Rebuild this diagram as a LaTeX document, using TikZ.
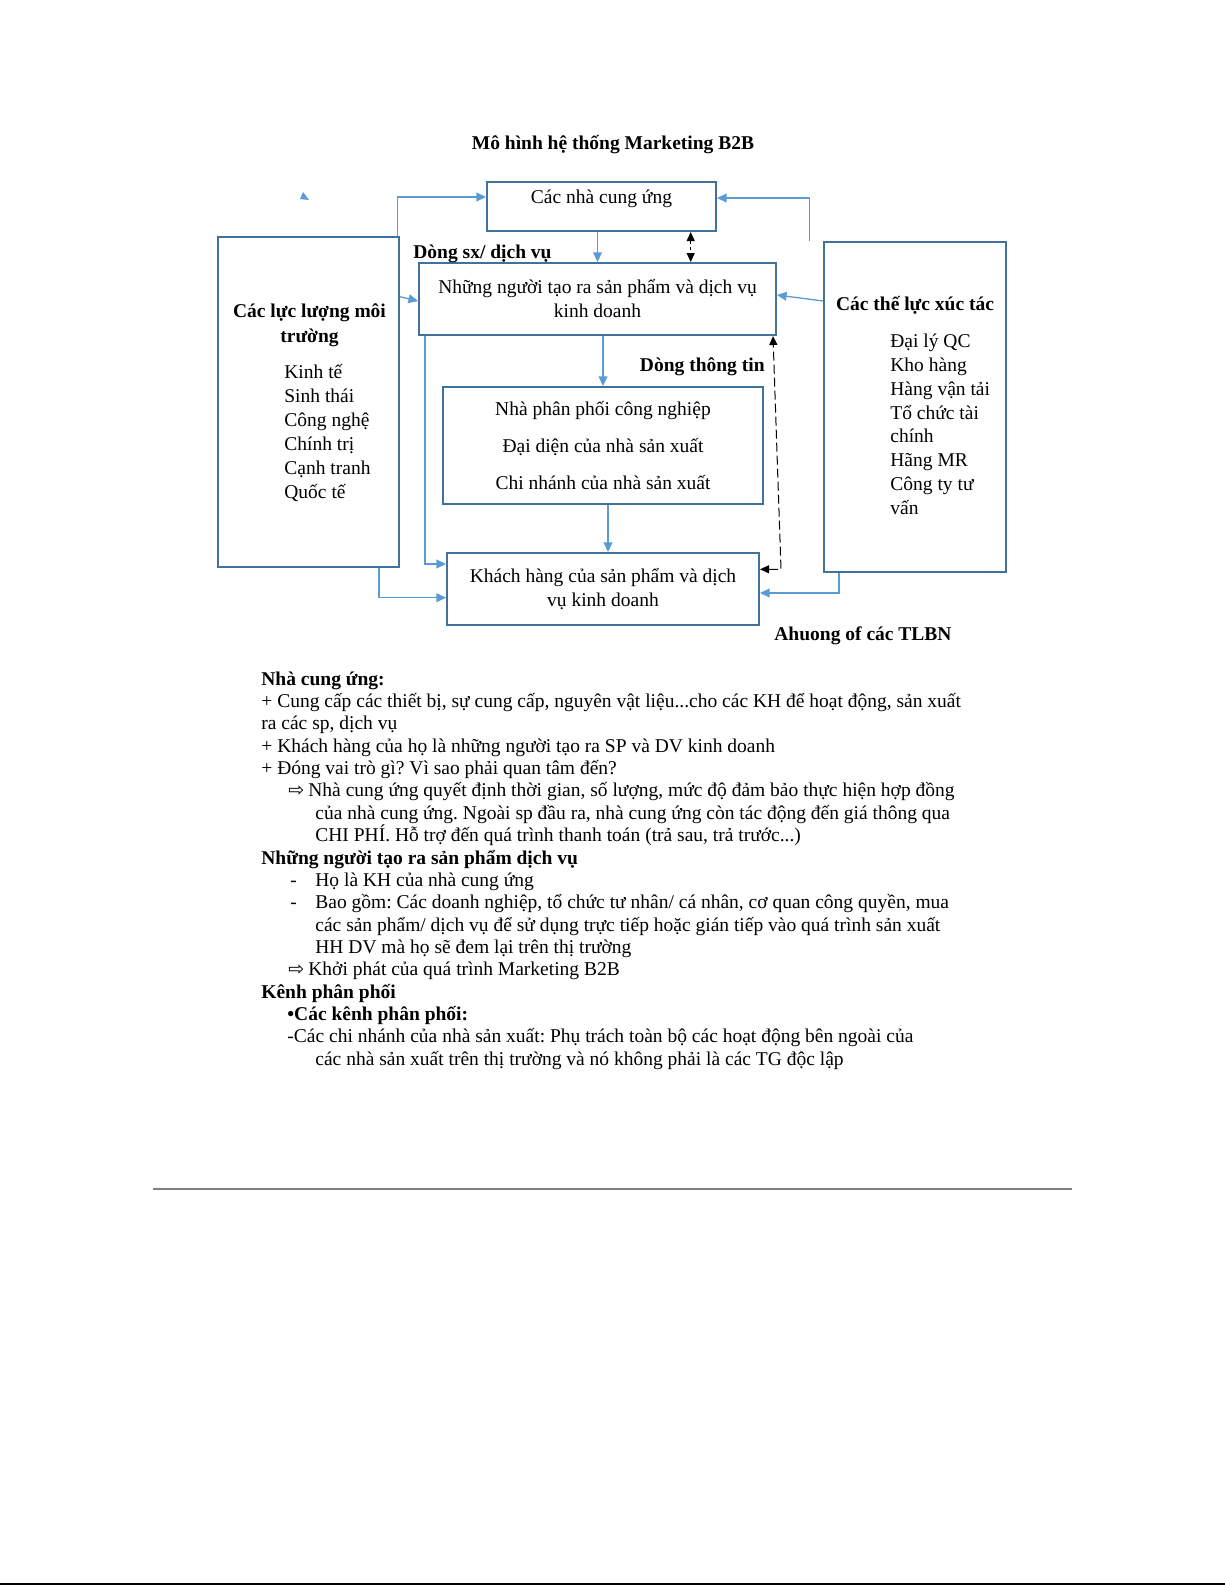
\documentclass[tikz,border=0pt]{standalone}
\usepackage{fontspec}
\setmainfont{Liberation Serif}
\newfontfamily\arrowfont{DejaVu Sans}
\frenchspacing
\usetikzlibrary{arrows.meta,positioning,calc}
\definecolor{boxblue}{HTML}{41719C}
\definecolor{linkblue}{HTML}{5B9BD5}
\tikzstyle{box}  = [draw=boxblue, line width=1pt, inner sep=0pt, align=center]
\tikzstyle{conn} = [draw=linkblue, line width=0.65pt, -{Triangle[length=4.8pt,width=4.4pt]}]
\tikzstyle{flow} = [black, line width=0.5pt, {Triangle[length=4.5pt,width=4pt]}-{Triangle[length=4.5pt,width=4pt]}]

\begin{document}
\begin{tikzpicture}[x=0.5pt, y=-0.5pt,
			font=\fontsize{9.75pt}{12pt}\selectfont,
			txt/.style={anchor=base west, inner sep=0pt},
			head/.style={txt, font=\fontsize{9.75pt}{12pt}\selectfont\bfseries},
			arrowmark/.style={txt, font=\fontsize{9.5pt}{11pt}\selectfont\arrowfont}]
		\useasboundingbox (0,0) rectangle (1225,1585);

		% diagram
		\node[head, anchor=base] (title) at (613,149) {Mô hình hệ thống Marketing B2B};

		\node[box, minimum width=114.5pt, minimum height=24.5pt, text height=10.5pt, text depth=14pt] (sup) at (601.5,206.5) {Các nhà cung ứng};
		\node[box, minimum width=178.5pt, minimum height=36pt] (prod) at (597.5,299) {Những người tạo ra sản phẩm và dịch vụ\\kinh doanh};
		\node[box, minimum width=160pt, minimum height=58.5pt] (dist) at (603,445.5) {Nhà phân phối công nghiệp\\[6.4pt]Đại diện của nhà sản xuất\\[6.4pt]Chi nhánh của nhà sản xuất};
		\node[box, minimum width=156pt, minimum height=36pt] (cust) at (603,589) {Khách hàng của sản phẩm và dịch\\vụ kinh doanh};

		\node[box, minimum width=90.5pt, minimum height=165pt] (env) at (308.5,402) {};
		\node[head, anchor=base] (envh1) at (309.5,317.3) {Các lực lượng môi};
		\node[head, anchor=base] (envh2) at (309.5,342.3) {trường};
		\foreach \s [count=\i from 0] in {Kinh tế, Sinh thái, Công nghệ, Chính trị, Cạnh tranh, Quốc tế}
			\node[txt] (env\i) at (284,378.3+24.1*\i) {\s};

		\node[box, minimum width=91pt, minimum height=165pt] (cat) at (915,407) {};
		\node[head, anchor=base] (cath) at (915,310.7) {Các thế lực xúc tác};
		\foreach \s [count=\i from 0] in {Đại lý QC, Kho hàng, Hàng vận tải, Tổ chức tài, chính, Hãng MR, Công ty tư, vấn}
			\node[txt] (cat\i) at (890,347.3+23.9*\i) {\s};

		\node[head] (lblsx) at (413,258) {Dòng sx/ dịch vụ};
		\node[head, anchor=base east] (lbltt) at (765,371.5) {Dòng thông tin};
		\node[head] (lbltlbn) at (774,640) {Ahuong of các TLBN};

		\coordinate (dd) at ([xshift=44.6pt]sup.south);
		\coordinate (dc) at ([xshift=2.5pt]dist.south);

		\draw[conn] ([xshift=-1.2pt]env.north east) |- ([yshift=4.75pt]sup.west);
		\draw[conn] ([xshift=-6.7pt]cat.north west) |- ([yshift=4.25pt]sup.east);
		\draw[conn] (prod.north |- sup.south) -- (prod.north);
		\draw[flow, dash pattern=on 1.5pt off 1.5pt] (dd) -- (dd |- prod.north);
		\draw[conn] ([yshift=52.65pt]env.east) -- ([yshift=-1pt]prod.west);
		\draw[conn] ([yshift=53pt]cat.west) -- ([yshift=2pt]prod.east);
		\draw[conn] (dist.north |- prod.south) -- (dist.north);
		\draw[conn] (dc) -- (dc |- cust.north);
		\draw[conn] ([xshift=3.5pt]prod.south west) |- ([yshift=12.5pt]cust.west);
		\draw[conn] ([xshift=-10.5pt]env.south east) |- ([yshift=-4.35pt]cust.west);
		\draw[conn] ([xshift=8pt]cat.south west) |- ([yshift=-2pt]cust.east);
		\draw[flow, dash pattern=on 4.5pt off 2pt] ([yshift=9.85pt]cust.east) -- ++(10.5pt,0) -- ([xshift=-2pt]prod.south east);
		\fill[linkblue] (303,192) -- (300,199) -- (309,200) -- cycle;

		% notes
		\node[head] (ln0) at (261,685) {Nhà cung ứng:};
		\node[txt] (ln1) at (261,707.4) {+ Cung cấp các thiết bị, sự cung cấp, nguyên vật liệu...cho các KH để hoạt động, sản xuất};
		\node[txt] (ln2) at (261,729.7) {ra các sp, dịch vụ};
		\node[txt] (ln3) at (261,752.1) {+ Khách hàng của họ là những người tạo ra SP và DV kinh doanh};
		\node[txt] (ln4) at (261,774.5) {+ Đóng vai trò gì? Vì sao phải quan tâm đến?};
		\node[arrowmark] (ar1) at (288,796.9) {⇨};
		\node[txt] (ln5) at (308,796.9) {Nhà cung ứng quyết định thời gian, số lượng, mức độ đảm bảo thực hiện hợp đồng};
		\node[txt] (ln6) at (315,819.2) {của nhà cung ứng. Ngoài sp đầu ra, nhà cung ứng còn tác động đến giá thông qua};
		\node[txt] (ln7) at (315,841.6) {CHI PHÍ. Hỗ trợ đến quá trình thanh toán (trả sau, trả trước...)};
		\node[head] (ln8) at (261,864) {Những người tạo ra sản phẩm dịch vụ};
		\node[txt] (dh1) at (290,886.3) {-};
		\node[txt] (ln9) at (315,886.3) {Họ là KH của nhà cung ứng};
		\node[txt] (dh2) at (290,908.7) {-};
		\node[txt] (ln10) at (315,908.7) {Bao gồm: Các doanh nghiệp, tổ chức tư nhân/ cá nhân, cơ quan công quyền, mua};
		\node[txt] (ln11) at (315,931.1) {các sản phẩm/ dịch vụ để sử dụng trực tiếp hoặc gián tiếp vào quá trình sản xuất};
		\node[txt] (ln12) at (315,953.4) {HH DV mà họ sẽ đem lại trên thị trường};
		\node[arrowmark] (ar2) at (288,975.8) {⇨};
		\node[txt] (ln13) at (308,975.8) {Khởi phát của quá trình Marketing B2B};
		\node[head] (ln14) at (261,998.2) {Kênh phân phối};
		\node[head] (ln15) at (287,1020.6) {•Các kênh phân phối:};
		\node[txt] (ln16) at (287,1042.9) {-Các chi nhánh của nhà sản xuất: Phụ trách toàn bộ các hoạt động bên ngoài của};
		\node[txt] (ln17) at (315,1065.3) {các nhà sản xuất trên thị trường và nó không phải là các TG độc lập};

		\draw[gray, line width=0.8pt] (153,1189) -- (1072,1189);
		\draw[line width=1pt] (0,1583.5) -- (1225,1583.5);
	\end{tikzpicture}
\end{document}
